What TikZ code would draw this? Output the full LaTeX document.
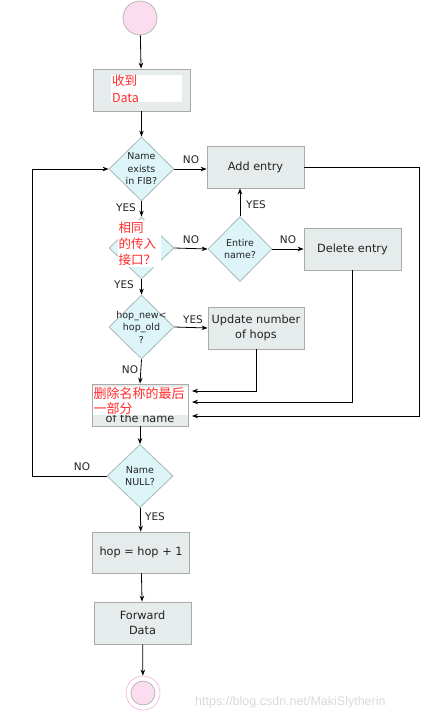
\documentclass[tikz,border=0pt]{standalone}
\usepackage{fontspec}
\setmainfont{DejaVu Sans}
\newfontfamily\cjk{Noto Sans CJK SC}
\newfontfamily\wmfont{Liberation Sans}
\usetikzlibrary{shapes.geometric,arrows.meta}
\definecolor{boxfill}{HTML}{E6EBEB}
\definecolor{boxline}{HTML}{A9ABAB}
\definecolor{dfill}{HTML}{DDF5F8}
\definecolor{dline}{HTML}{A9B8B8}
\definecolor{pinkf}{HTML}{FCDDF0}
\definecolor{pinkl}{HTML}{F5B8E0}
\definecolor{cnred}{HTML}{FF2A2A}
\definecolor{txt}{HTML}{222222}
\begin{document}
\begin{tikzpicture}[x=1pt,y=-1pt,
 box/.style={draw=boxline, fill=boxfill, line width=0.8pt, minimum width=97pt, minimum height=42pt, inner sep=0pt, font=\fontsize{11.3}{15}\selectfont, align=center, text=txt},
 dia/.style={draw=dline, fill=dfill, line width=0.8pt, diamond, minimum width=65pt, minimum height=64pt, inner sep=0pt},
 dtext/.style={font=\fontsize{9.5}{12.5}\selectfont, align=center, text=txt},
 lab/.style={font=\fontsize{10.5}{12}\selectfont, inner sep=0pt, text=txt},
 arr/.style={-{Stealth[length=6pt,width=4.5pt]}, line width=0.8pt},
 cn/.style={fill=white, text=cnred, inner sep=0pt, align=left}
]
\useasboundingbox (0,0) rectangle (445,720);
% nodes
\node[circle, draw=gray!60, fill=pinkf, minimum size=34pt, inner sep=0pt, line width=0.7pt] (start) at (140,18) {};
\node[box] (recv) at (141.5,90) {};
\node[cn, minimum width=71pt, minimum height=27pt, text width=69pt, font=\cjk\fontsize{12.5}{17}\selectfont] (recvcn) at (146.5,88.5) {收到\\Data};
\node[dia] (d1) at (141.5,169) {};
\node[dtext] (d1t) at (d1) {Name\\exists\\in FIB?};
\node[box] (add) at (255.5,167) {Add entry};
\node[dia, minimum height=62pt] (d2) at (141.5,248) {};
\node[cn, minimum width=43pt, minimum height=47pt, text width=42pt, font=\cjk\fontsize{12.5}{16}\selectfont] (d2cn) at (139.5,243.5) {相同\\的传入\\接口？};
\node[dia, minimum width=64pt, minimum height=65pt] (ent) at (240,249) {};
\node[dtext] (entt) at (ent) {Entire\\name?};
\node[box] (del) at (352.5,249) {Delete entry};
\node[dia] (d3) at (141.5,327) {};
\node[dtext] (d3t) at (d3) {hop\_new<\\hop\_old\\?};
\node[box, minimum width=96pt] (upd) at (256,328) {Update number\\of hops};
\node[box, minimum width=96pt] (strip) at (140,405) {};
\node[font=\fontsize{11.3}{13}\selectfont, text=txt] (stript) at (140,418.5) {of the name};
\node[cn, minimum width=95pt, minimum height=28pt, text width=94pt, font=\cjk\fontsize{13}{15}\selectfont] (stripcn) at (140.5,401) {删除名称的最后\\一部分};
\node[dia, minimum width=66pt, minimum height=63pt] (null) at (140,476) {};
\node[dtext] (nullt) at (null) {Name\\NULL?};
\node[box, minimum height=41pt] (hop) at (141,552.5) {hop = hop + 1};
\node[box] (fwd) at (142.5,623) {Forward\\Data};
\node[circle, draw=pinkl, fill=white, minimum size=34pt, inner sep=0pt, line width=0.7pt] (endo) at (143,693) {};
\node[circle, draw=gray!60, fill=pinkf, minimum size=24pt, inner sep=0pt, line width=0.7pt] (endi) at (endo) {};
% coordinates
\coordinate (in1) at (192,391);
\coordinate (in2) at (192,402);
\coordinate (in3) at (192,416);
\coordinate (rt) at (419,416);
\coordinate (lp) at (32,476);
% connectors
\draw[arr] (start) -- (recv);
\draw[arr] (recv) -- (d1);
\draw[arr] (d1.east) -- (add.west |- d1.east);
\draw[arr] (d1.south) -- (d2.north);
\draw[arr] (d2.east) -- (ent.west);
\draw[arr] (ent.north) -- (add.south -| ent.north);
\draw[arr] (ent.east) -- (del.west);
\draw[arr] (d2.south) -- (d3.north);
\draw[arr] (d3.east) -- (upd.west);
\draw[arr] (d3.south) -- (strip.north);
\draw[arr] (upd.south) |- (in1);
\draw[arr] (del.south) |- (in2);
\draw[arr] (add.east) -| (rt) -- (in3);
\draw[arr] (strip) -- (null);
\draw[arr] (null.west) -- (lp) |- (d1.west);
\draw[arr] (null) -- (hop);
\draw[arr] (hop) -- (fwd);
\draw[arr] (fwd) -- (endo);
% labels
\node[lab] (l1) at (191,160) {NO};
\node[lab] (l2) at (126,208) {YES};
\node[lab] (l3) at (191,240) {NO};
\node[lab] (l4) at (256,205) {YES};
\node[lab] (l5) at (288,240) {NO};
\node[lab] (l6) at (124,285) {YES};
\node[lab] (l7) at (193,320) {YES};
\node[lab] (l8) at (130,370) {NO};
\node[lab] (l9) at (82,467) {NO};
\node[lab] (l10) at (155,517) {YES};
\node[text=gray!30, font=\wmfont\fontsize{12.5}{14}\selectfont, anchor=west, inner sep=0pt] (wm) at (195,702) {https://blog.csdn.net/MakiSlytherin};
\end{tikzpicture}
\end{document}
